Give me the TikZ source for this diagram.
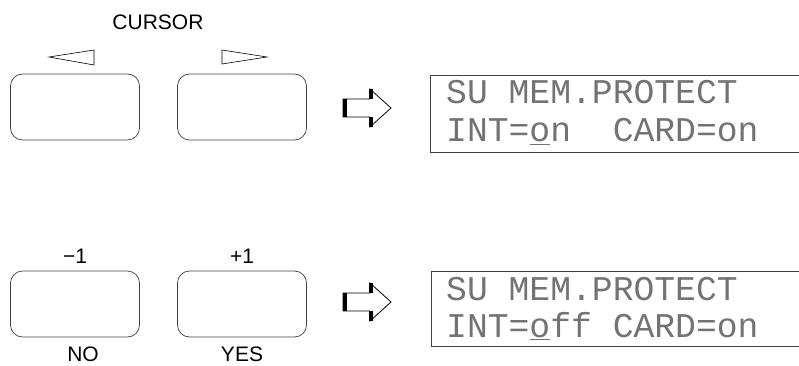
\documentclass[tikz,border=0pt]{standalone}
\usepackage{fontspec}
\setmainfont{Liberation Sans}
\newfontfamily\lcdfont{Liberation Mono}
\usetikzlibrary{positioning}

\begin{document}
\begin{tikzpicture}[x=1pt,y=-1pt,
  key/.style={draw=black!75,line width=0.7pt,rounded corners=12pt,minimum width=129pt,minimum height=66pt,inner sep=0pt},
  lbl/.style={font=\fontsize{21}{21}\selectfont,inner sep=0pt},
  lcd/.style={font=\lcdfont\fontsize{34.7}{34.7}\selectfont,text=black!55,anchor=base west,inner sep=0pt},
  frame/.style={draw=black!75,line width=0.8pt},
  hollow/.pic={
    \fill (0,-9) rectangle (4,9);
    \fill (26,-19) rectangle (30,-9);
    \fill (26,9) rectangle (30,19);
    \draw[line width=0.8pt,line join=miter] (0,-9) -- (27,-9) -- (27,-19) -- (48,0) -- (27,19) -- (27,9) -- (0,9) -- cycle;
  }]
  \useasboundingbox (0,0) rectangle (799,366);
  % cursor keys
  \node[lbl](cur) at (158,22){CURSOR};
  \node[key](kleft) at (75,107){};
  \node[key](kright) at (242,107){};
  \draw[line width=0.6pt] (49,57) -- (94,50) -- (94,65) -- cycle;
  \draw[line width=0.6pt] (222,50) -- (267,57) -- (222,64) -- cycle;
  \pic at (343,108) {hollow};
  % display before
  \draw[frame] (800,75) -- (430,75) -- (430,152) -- (800,152);
  \node[lcd](upA) at (446,104){SU MEM.PROTECT};
  \node[lcd](upB) at (446,142){INT=\underline{o}n\ \ CARD=on};
  % value keys
  \node[key](kno) at (75,304){};
  \node[key](kyes) at (242,304){};
  \node[lbl,above=7pt of kno](minus){−1};
  \node[lbl,above=7pt of kyes](plus){+1};
  \node[lbl,below=9pt of kno.south,anchor=north,xshift=8pt](no){NO};
  \node[lbl,below=9pt of kyes.south,anchor=north](yes){YES};
  \pic at (343,302) {hollow};
  % display after
  \draw[frame] (800,271) -- (431,271) -- (431,346) -- (800,346);
  \node[lcd](dnA) at (446,300){SU MEM.PROTECT};
  \node[lcd](dnB) at (446,337){INT=\underline{o}ff CARD=on};
\end{tikzpicture}
\end{document}
